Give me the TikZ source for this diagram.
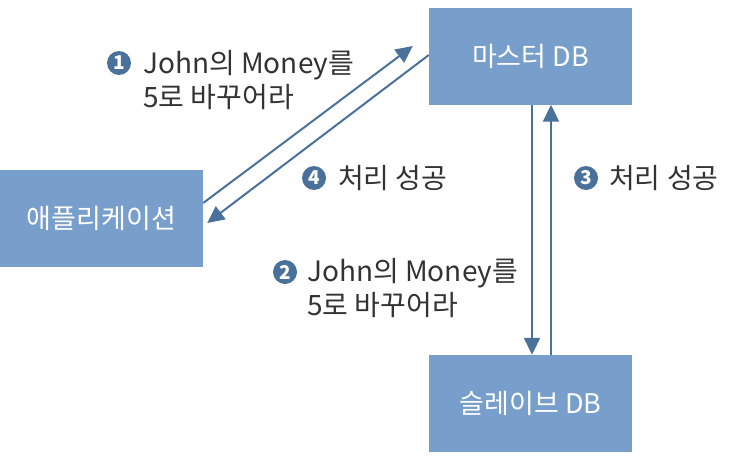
\documentclass[tikz,border=0pt]{standalone}
\usepackage{fontspec}
\setmainfont{Noto Sans CJK KR}
\usepackage{xcolor}
\usetikzlibrary{arrows.meta, positioning}
\definecolor{boxblue}{HTML}{789ECB}
\definecolor{arrowblue}{HTML}{4A719B}
\definecolor{labelgray}{HTML}{333333}

\begin{document}
\begin{tikzpicture}[x=1pt, y=-1pt,
        box/.style={fill=boxblue, minimum width=203pt, minimum height=97pt,
                    inner sep=0pt, text=white, font=\fontsize{27}{32}\selectfont},
        arr/.style={draw=arrowblue, line width=2pt,
                    -{Triangle[length=17pt, width=16pt]}},
        lbl/.style={anchor=west, align=left, inner sep=0pt, text=labelgray,
                    font=\fontsize{28}{34}\selectfont},
        num/.style={circle, fill=arrowblue, text=white, inner sep=0pt,
                    minimum size=24pt, font=\bfseries\fontsize{19}{19}\selectfont}
    ]
        \useasboundingbox (0,0) rectangle (738,455);
        \node[box] (app)    at (101.5,218.5) {애플리케이션};
        \node[box] (master) at (530.5,56)    {마스터 DB};
        \node[box] (slave)  at (530.5,403.5) {슬레이브 DB};

        \draw[arr] ([yshift=15.5pt]app.east) -- ([xshift=-16pt, yshift=10pt]master.west);
        \draw[arr] ([yshift=1pt]master.west) -- ([xshift=4pt, yshift=-4.5pt]app.east);
        \draw[arr] ([xshift=1.5pt]master.south) -- ([xshift=1.5pt]slave.north);
        \draw[arr] ([xshift=20.5pt]slave.north) -- ([xshift=20.5pt]master.south);

        % labels
        \node[lbl] (txtA) at (143,80)  {John의 Money를\\5로 바꾸어라};
        \node[num] (numA) at (119,63)  {1};
        \node[lbl] (txtB) at (307,288) {John의 Money를\\5로 바꾸어라};
        \node[num] (numB) at (285,272) {2};
        \node[lbl] (txtC) at (609,178) {처리 성공};
        \node[num] (numC) at (586,178) {3};
        \node[lbl] (txtD) at (338,178) {처리 성공};
        \node[num] (numD) at (314,178) {4};
    \end{tikzpicture}
\end{document}
